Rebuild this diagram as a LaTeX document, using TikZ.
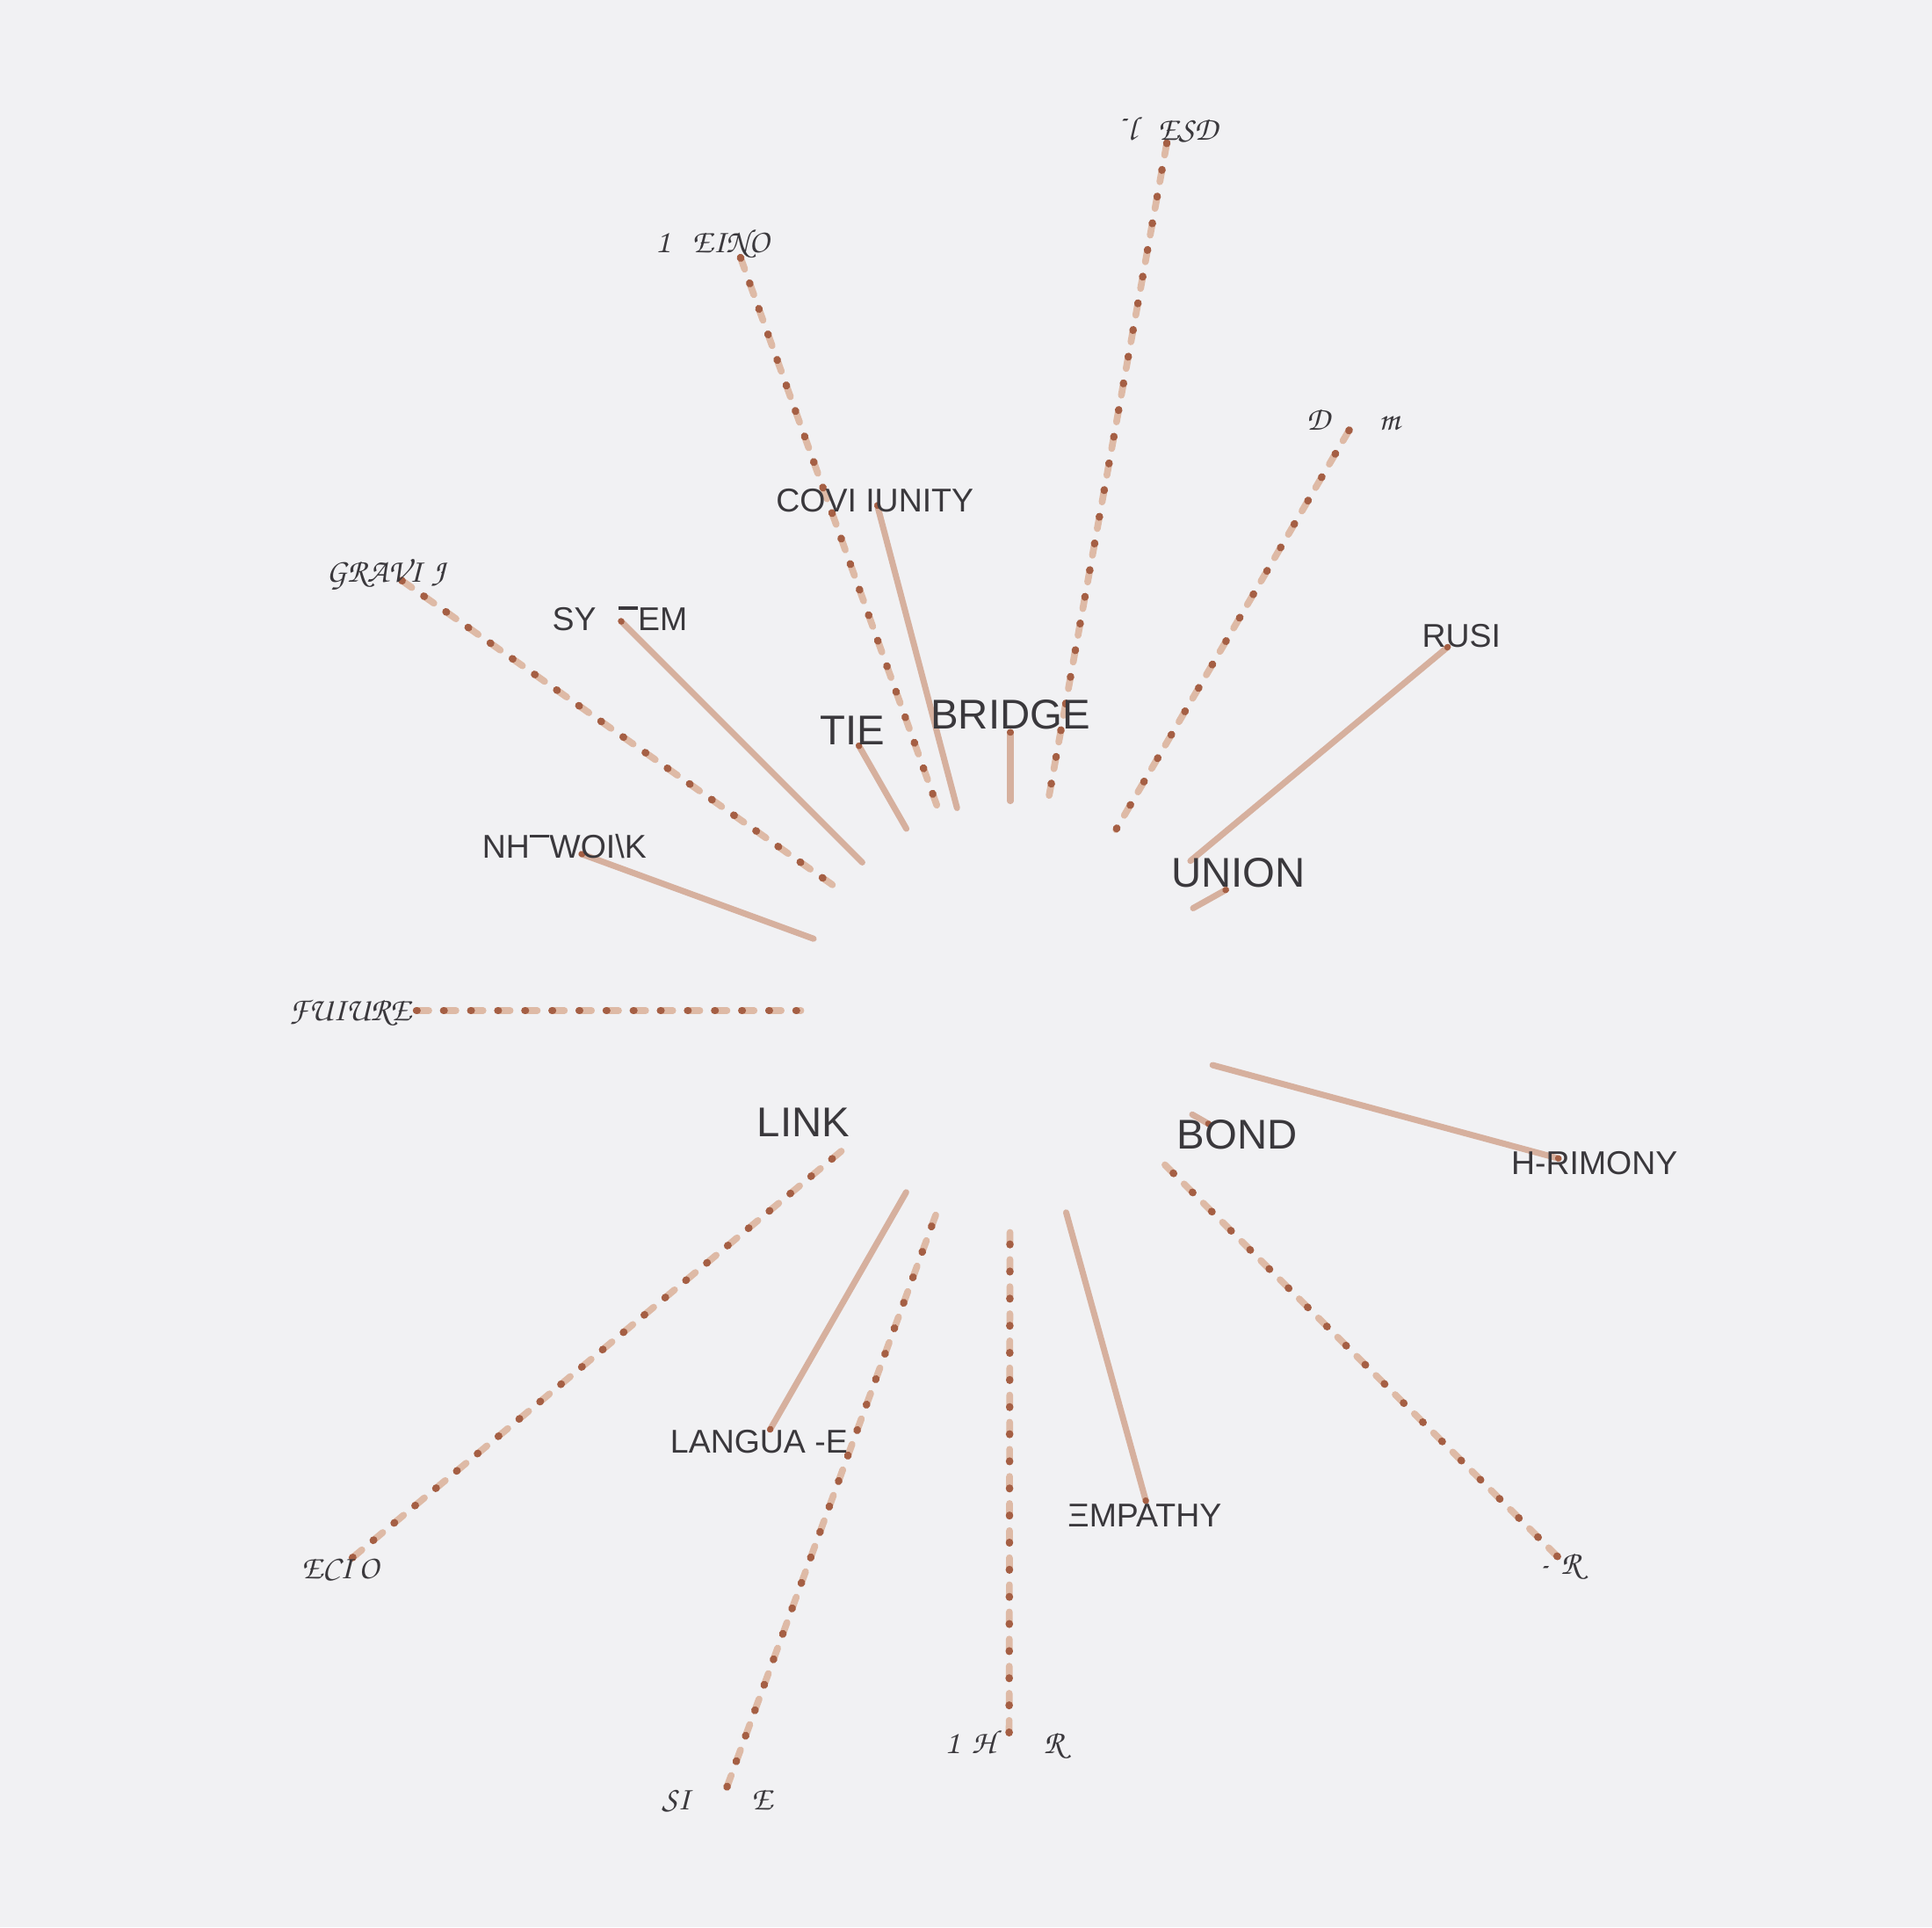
\documentclass[tikz,border=0pt]{standalone}
\usepackage[T1,TU]{fontenc}
\usepackage{fontspec}
\setsansfont{Liberation Sans}
\usepackage{tikz}
\usetikzlibrary{calc}
\usetikzlibrary{backgrounds}
\definecolor{paper}{RGB}{241,241,243}
\definecolor{ink}{RGB}{58,56,60}
\definecolor{penline}{RGB}{214,176,158}
\definecolor{penpale}{RGB}{222,186,166}
\definecolor{pendot}{RGB}{165,95,68}
\newcommand{\capbar}{\rule[0.63em]{0.6em}{0.085em}}
\tikzset{
  bigword/.style={font=\sffamily\fontsize{9.6}{11}\selectfont, text=ink, inner sep=0pt},
  word/.style={font=\sffamily\fontsize{7.6}{9}\selectfont, text=ink, inner sep=0pt},
  scriptword/.style={font=\fontsize{7.7}{9}\fontencoding{T1}\fontfamily{pzc}\fontseries{mb}\fontshape{it}\selectfont,
    text=ink, inner sep=0pt},
  strand/.style={draw=penline, line width=0.5mm, line cap=round,
    postaction={draw=pendot, dash pattern=on 0.05mm off 800mm}},
  dashstrand/.style={draw=penpale, line width=0.55mm, line cap=round, dash pattern=on 1mm off 1.2mm,
    postaction={draw=pendot, line width=0.6mm, dash pattern=on 0.05mm off 2.15mm}},
}

\begin{document}
\begin{tikzpicture}[x=0.1mm,y=-0.1mm]
    \coordinate (hub) at (820,820);
    % big words round the hub
    \node[bigword] (tie) at (692,593) {TIE};
    \node[bigword] (bridge) at (820,580) {BRIDGE};
    \node[bigword] (union) at (1005,708) {UNION};
    \node[bigword] (link) at (652,911) {LINK};
    \node[bigword] (bond) at (1004,921) {BOND};
    % smaller words
    \node[word] (community) at (710,406) {COVI IUNITY};
    \node[word] (system) at (503,502) {SY\hspace{0.67em}\capbar EM};
    \node[word] (network) at (458,687) {NH\capbar WOI\textbackslash K};
    \node[word] (trust) at (1186,516) {RUSI};
    \node[word] (harmony) at (1294,944) {H-RIMONY};
    \node[word] (language) at (616,1170) {LANGUA -E};
    \node[word] (empathy) at (929,1230) {ΞMPATHY};
    % script words at the far ends
    \node[scriptword] (north) at (948,105) {\raisebox{0.9ex}{-}l\hspace{1.8mm}ESD};
    \node[scriptword] (northwest) at (578,198) {1\hspace{1.8mm}EINO};
    \node[scriptword] (northeast) at (1098,340) {D\hspace{4mm}m};
    \node[scriptword] (gravity) at (313,466) {GRAVI\hspace{0.8mm}J};
    \node[scriptword] (future) at (284,822) {FUIURE};
    \node[scriptword] (echo) at (276,1273) {ECI\hspace{0.5mm}O};
    \node[scriptword] (silence) at (582,1461) {SI\hspace{5mm}E};
    \node[scriptword] (south) at (815,1416) {1\hspace{1mm}H\hspace{4mm}R};
    \node[scriptword] (southeast) at (1266,1271) {-\hspace{1mm}R};
    % pen-down ends of the strands
    \coordinate (nEnd) at (947,116);
    \coordinate (nwEnd) at (601,209);
    \coordinate (neEnd) at (1095,349);
    \coordinate (gravEnd) at (326,471);
    \coordinate (futEnd) at (338,820);
    \coordinate (echoEnd) at (286,1264);
    \coordinate (silEnd) at (590,1450);
    \coordinate (sEnd) at (819,1406);
    \coordinate (seEnd) at (1264,1263);
    \coordinate (commEnd) at (712,410);
    \coordinate (sysEnd) at (504,504);
    \coordinate (netEnd) at (472,693);
    \coordinate (tieEnd) at (697,605);
    \coordinate (bridgeEnd) at (820,594);
    \coordinate (trustEnd) at (1175,525);
    \coordinate (unionEnd) at (995,722);
    \coordinate (bondEnd) at (981,912);
    \coordinate (harmEnd) at (1265,940);
    \coordinate (langEnd) at (625,1160);
    \coordinate (empEnd) at (930,1218);
    \begin{scope}[on background layer]
      \fill[paper] (0,0) rectangle (1568,1564);
      \draw[dashstrand] (nEnd) -- ($(hub)!17mm!(nEnd)$);
      \draw[dashstrand] (nwEnd) -- ($(hub)!17mm!(nwEnd)$);
      \draw[dashstrand] (neEnd) -- ($(hub)!17mm!(neEnd)$);
      \draw[dashstrand] (gravEnd) -- ($(hub)!17mm!(gravEnd)$);
      \draw[dashstrand] (futEnd) -- ($(hub)!17mm!(futEnd)$);
      \draw[dashstrand] (echoEnd) -- ($(hub)!17mm!(echoEnd)$);
      \draw[dashstrand] (silEnd) -- ($(hub)!17mm!(silEnd)$);
      \draw[dashstrand] (sEnd) -- ($(hub)!17mm!(sEnd)$);
      \draw[dashstrand] (seEnd) -- ($(hub)!17mm!(seEnd)$);
      \draw[strand] (commEnd) -- ($(hub)!17mm!(commEnd)$);
      \draw[strand] (sysEnd) -- ($(hub)!17mm!(sysEnd)$);
      \draw[strand] (netEnd) -- ($(hub)!17mm!(netEnd)$);
      \draw[strand] (tieEnd) -- ($(hub)!17mm!(tieEnd)$);
      \draw[strand] (bridgeEnd) -- ($(hub)!17mm!(bridgeEnd)$);
      \draw[strand] (trustEnd) -- ($(hub)!19mm!(trustEnd)$);
      \draw[strand] (unionEnd) -- ($(hub)!17mm!(unionEnd)$);
      \draw[strand] (bondEnd) -- ($(hub)!17mm!(bondEnd)$);
      \draw[strand] (harmEnd) -- ($(hub)!17mm!(harmEnd)$);
      \draw[strand] (langEnd) -- ($(hub)!17mm!(langEnd)$);
      \draw[strand] (empEnd) -- ($(hub)!17mm!(empEnd)$);
    \end{scope}
\end{tikzpicture}
\end{document}
